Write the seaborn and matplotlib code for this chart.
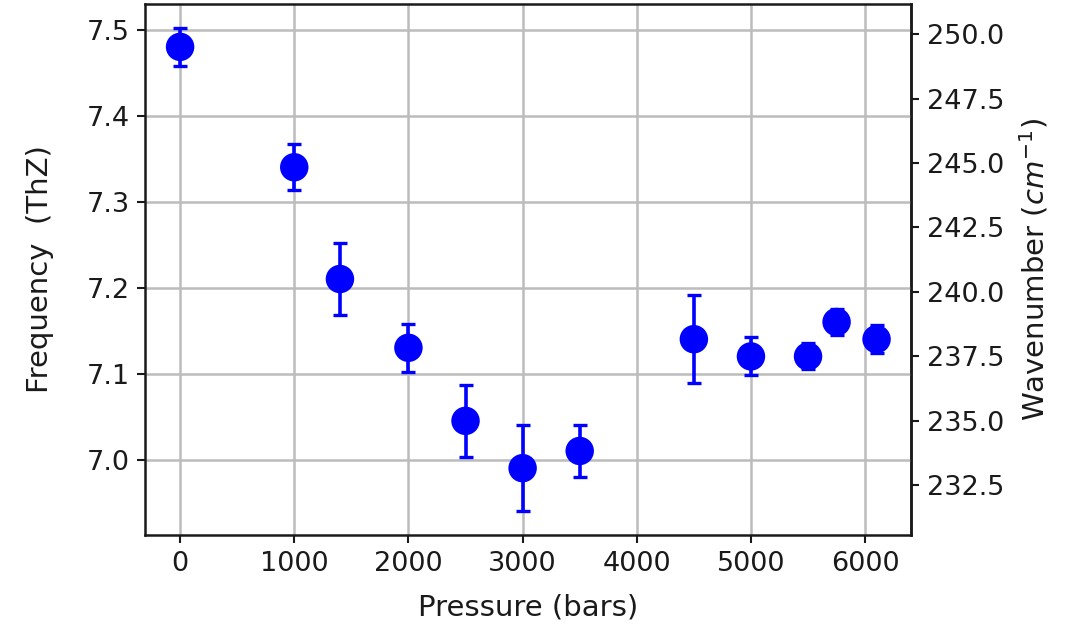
import numpy as np
import pandas as pd
import matplotlib
matplotlib.use("Agg")
import matplotlib.pyplot as plt
import seaborn as sns

pressure = [0, 1000, 1400, 2000, 2500, 3000, 3500, 4500, 5000, 5500, 5750, 6100]
frequency = [7.48, 7.34, 7.21, 7.13, 7.045, 6.99, 7.01, 7.14, 7.12, 7.12, 7.16, 7.14]
freq_err = [0.022, 0.027, 0.042, 0.028, 0.042, 0.05, 0.03, 0.051, 0.022, 0.015, 0.015, 0.016]
wavenumber_ticks = [232.5, 235.0, 237.5, 240.0, 242.5, 245.0, 247.5, 250.0]

THZ_TO_CM = 33.356

df = pd.DataFrame({"Pressure": pressure, "Frequency": frequency, "err": freq_err})

sns.set_style("ticks")
plt.rcParams["font.family"] = ["DejaVu Sans"]
plt.rcParams["text.color"] = "#1a1a1a"
plt.rcParams["axes.labelcolor"] = "#1a1a1a"

TICK_FS = 19.5
LABEL_FS = 21

fig = plt.figure(figsize=(10.76, 6.35), dpi=100)
ax = fig.add_axes([0.135, 0.157, 0.712, 0.837])

ax.errorbar(df["Pressure"], df["Frequency"], yerr=df["err"], fmt="none",
            ecolor="blue", elinewidth=2.6, capsize=5, capthick=2.4, zorder=3)
sns.scatterplot(data=df, x="Pressure", y="Frequency", ax=ax, color="blue",
                s=420, edgecolor="none", zorder=4)

ax.grid(True, color="#bcbcbc", linewidth=1.8)
ax.set_axisbelow(True)
ax.set_xticks([0, 1000, 2000, 3000, 4000, 5000, 6000])
ax.set_yticks([7.0, 7.1, 7.2, 7.3, 7.4, 7.5])
ax.set_xlabel("Pressure (bars)", fontsize=LABEL_FS, labelpad=12)
ax.set_ylabel("Frequency  (ThZ)", fontsize=LABEL_FS, labelpad=24)
for s in ax.spines.values():
    s.set_linewidth(1.8)
    s.set_color("#1a1a1a")
ax.tick_params(axis="both", labelsize=TICK_FS, length=6, width=1.5,
               colors="#1a1a1a", pad=5)

sec = ax.secondary_yaxis("right", functions=(lambda f: f * THZ_TO_CM, lambda w: w / THZ_TO_CM))
sec.set_yticks(wavenumber_ticks)
sec.set_yticklabels([f"{t:.1f}" for t in wavenumber_ticks])
sec.set_ylabel("Wavenumber ($cm^{-1}$)", fontsize=LABEL_FS, labelpad=10)
sec.tick_params(labelsize=TICK_FS, length=6, width=1.5, colors="#1a1a1a", pad=5)
sec.spines["right"].set_linewidth(1.8)
sec.spines["right"].set_color("#1a1a1a")

fig.savefig("out.png", dpi=100)
